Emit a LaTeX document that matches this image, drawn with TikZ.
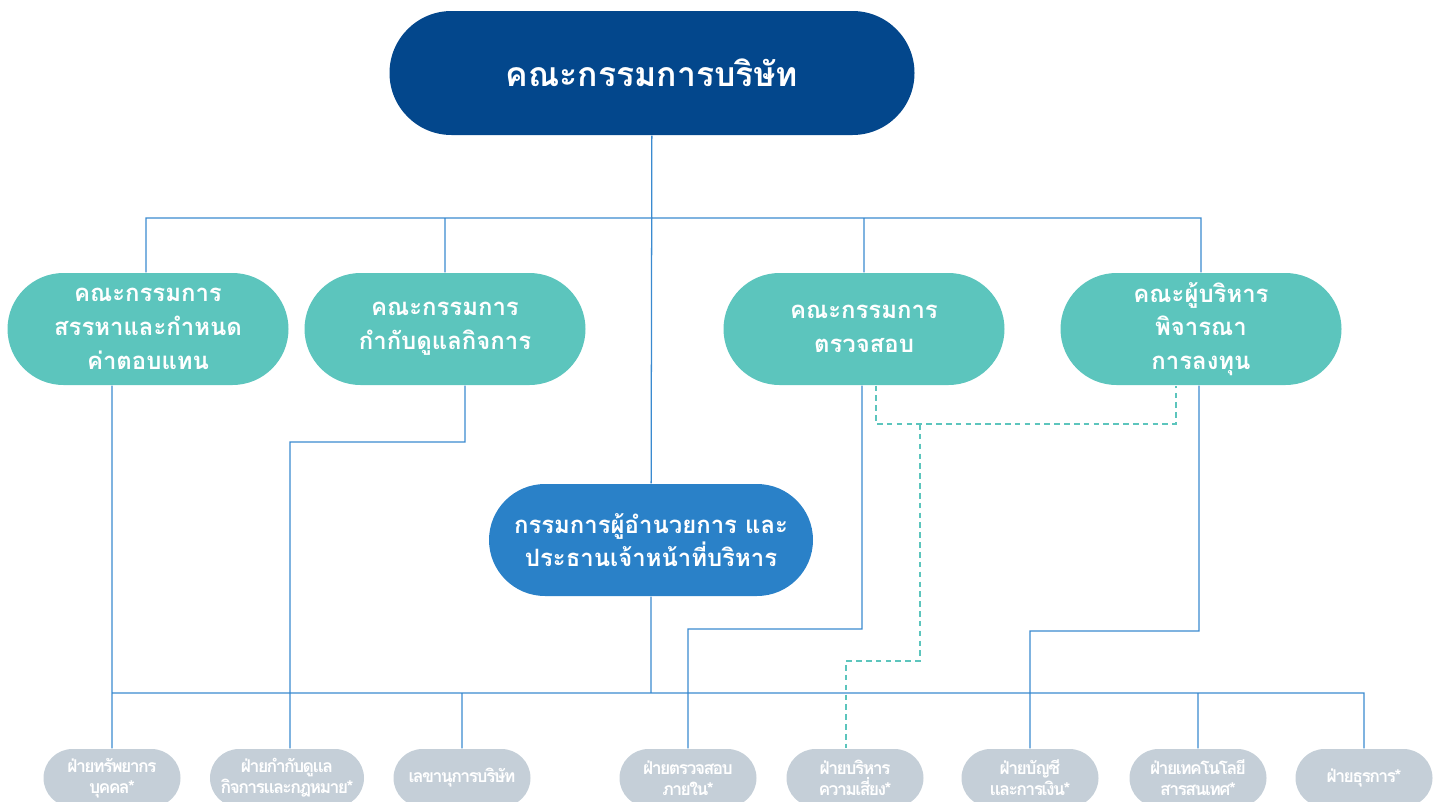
\documentclass[tikz,border=0pt]{standalone}
\usepackage{fontspec}
\newfontfamily\thaifont[Script=Thai]{Loma}
\newfontfamily\thaitight[Script=Thai, LetterSpace=-9]{Loma}
\usetikzlibrary{positioning}

\definecolor{boardblue}{HTML}{03478C}
\definecolor{ceoblue}{HTML}{2A81C8}
\definecolor{teal}{HTML}{5CC5BD}
\definecolor{deptgrey}{HTML}{C5CFD8}
\definecolor{linkblue}{HTML}{3A8AD0}

\begin{document}
\begin{tikzpicture}[%
			x=0.025cm, y=-0.025cm,
			align = center,
			font=\thaifont,
			text=white,
			line width=0.9pt,
			boardbox/.style={%
				fill=boardblue,
				minimum width=525*0.025cm,
				minimum height=124*0.025cm,
				rounded corners=62*0.025cm,
				font=\thaifont\bfseries\fontsize{24}{30}\selectfont
			},
			committee/.style={%
				fill=teal,
				minimum width=281*0.025cm,
				minimum height=112*0.025cm,
				rounded corners=56*0.025cm,
				font=\thaifont\bfseries\fontsize{17}{24}\selectfont
			},
			ceobox/.style={%
				committee,
				fill=ceoblue,
				minimum width=324*0.025cm
			},
			dept/.style={%
				fill=deptgrey,
				minimum width=137*0.025cm,
				minimum height=58*0.025cm,
				rounded corners=29*0.025cm,
				font=\thaitight\bfseries\fontsize{12.5}{15}\selectfont
			},
			link/.style={draw=linkblue},
			dotlink/.style={draw=teal, dash pattern=on 4pt off 3pt}
			]
			\useasboundingbox (0,0) rectangle (1441,802);

			% board and committees
			\node[boardbox] (board) at (652,73) {คณะกรรมการบริษัท};
			\node[committee] (nom) at (148,329) {คณะกรรมการ\\สรรหาและกำหนด\\ค่าตอบแทน};
			\node[committee] (gov) at (445,329) {คณะกรรมการ\\กำกับดูแลกิจการ};
			\node[committee] (audit) at (864,329) {คณะกรรมการ\\ตรวจสอบ};
			\node[committee] (inv) at (1201,329) {คณะผู้บริหาร\\พิจารณา\\การลงทุน};
			\node[ceobox] (ceo) at (651,540) {กรรมการผู้อำนวยการ และ\\ประธานเจ้าหน้าที่บริหาร};

			% departments
			\node[dept] (d1) at (112,778) {ฝ่ายทรัพยากร\\บุคคล*};
			\node[dept, minimum width=154*0.025cm] (d2) at (287,778) {ฝ่ายกำกับดูแล\\กิจการและกฎหมาย*};
			\node[dept] (d3) at (462,778) {เลขานุการบริษัท};
			\node[dept] (d4) at (688,778) {ฝ่ายตรวจสอบ\\ภายใน*};
			\node[dept] (d5) at (855,778) {ฝ่ายบริหาร\\ความเสี่ยง*};
			\node[dept] (d6) at (1030,778) {ฝ่ายบัญชี\\และการเงิน*};
			\node[dept] (d7) at (1198,778) {ฝ่ายเทคโนโลยี\\สารสนเทศ*};
			\node[dept] (d8) at (1364,778) {ฝ่ายธุรการ*};

			\coordinate (topbus) at (651,218);
			\coordinate (lowbus) at (651,693);
			\coordinate (riskjoin) at (920,424);

			% solid lines
			\path[link] (board) -- (ceo)
			([xshift=-2*0.025cm]nom.north) |- (topbus) -| (inv.north)
			(gov.north) -- (gov.north |- topbus)
			(audit.north) -- (audit.north |- topbus)
			(ceo) -- (lowbus)
			(d1.north |- nom.south) -- (d1.north)
			(d1.north |- lowbus) -| (d8.north)
			(d3.north |- lowbus) -- (d3.north)
			(d7.north |- lowbus) -- (d7.north)
			([xshift=20*0.025cm]gov.south) -- (465,442) -| ([xshift=3*0.025cm]d2.north)
			([xshift=-2*0.025cm]audit.south) -- (862,629) -| (d4.north)
			([xshift=-2*0.025cm]inv.south) -- (1199,631) -| (d6.north);

			% dashed lines
			\path[dotlink] ([xshift=12*0.025cm]audit.south) -- (876,424) -| ([xshift=-25*0.025cm]inv.south)
			(riskjoin) -- (920,661) -| ([xshift=-9*0.025cm]d5.north);
			\end{tikzpicture}
\end{document}
